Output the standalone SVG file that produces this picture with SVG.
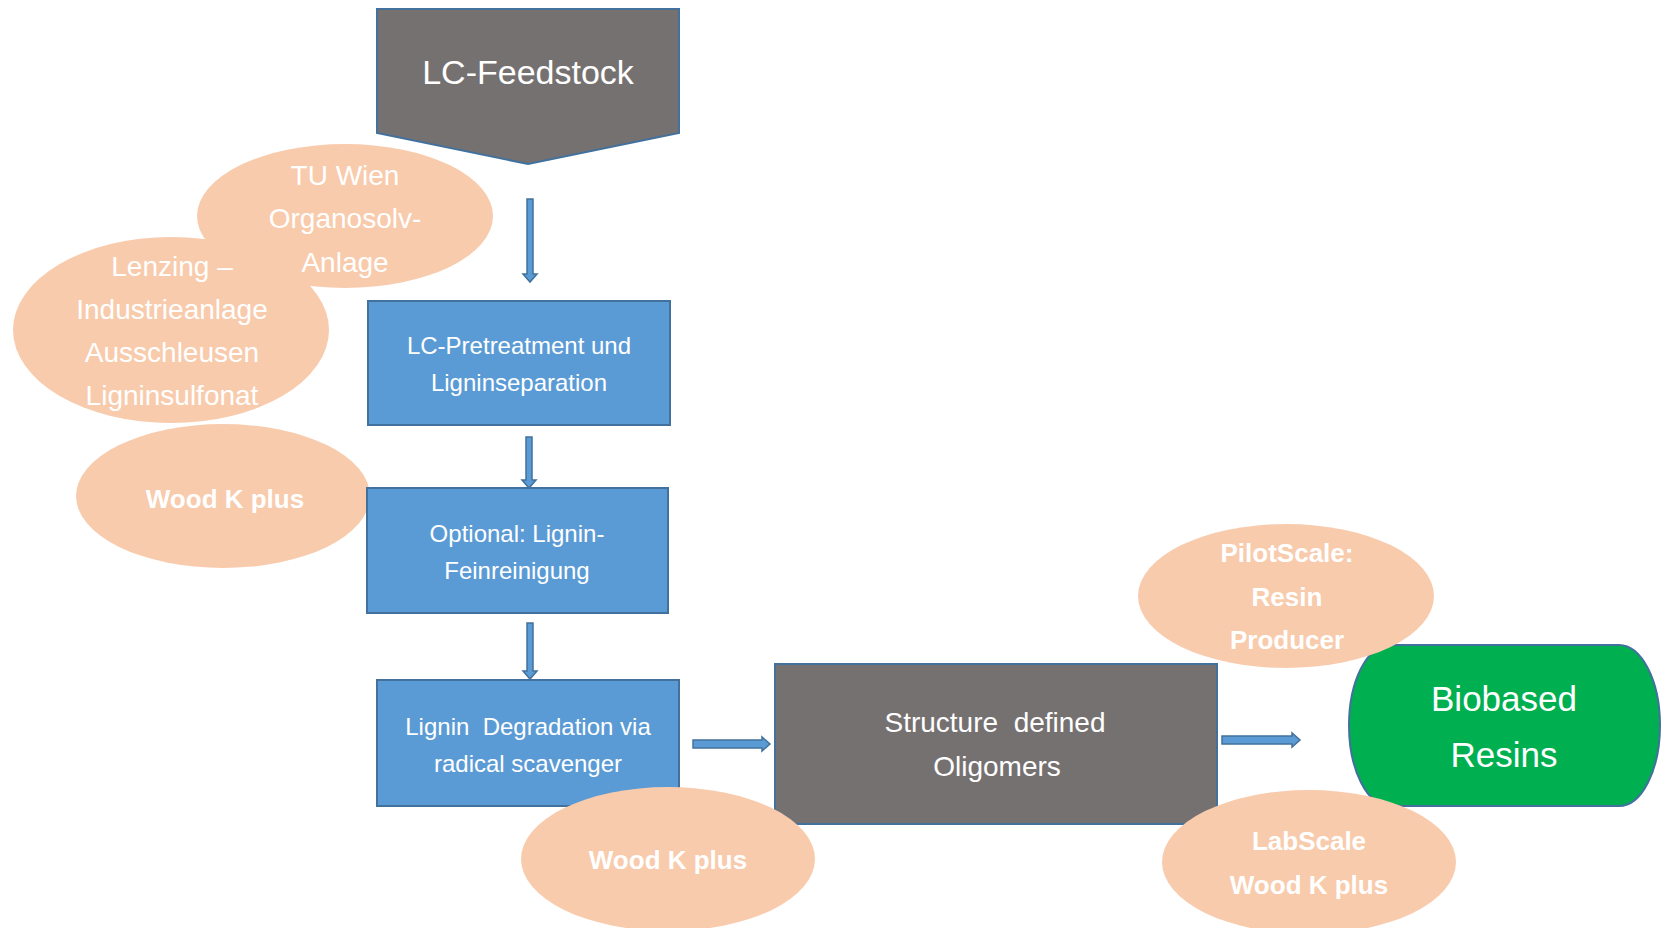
<svg xmlns="http://www.w3.org/2000/svg" width="1665" height="928" viewBox="0 0 1665 928">
<style>
text{font-family:"Liberation Sans",Arial,sans-serif;fill:#FFFFFF;text-anchor:middle}
.box{fill:#5B9BD5;stroke:#41719C;stroke-width:2}
.gray{fill:#767171;stroke:#41719C;stroke-width:2}
.ell{fill:#F8CBAD}
.green{fill:#00B050;stroke:#41719C;stroke-width:2}
.arr{fill:#5B9BD5;stroke:#41719C;stroke-width:1.5}
.b{font-weight:bold}
</style>
<rect width="1665" height="928" fill="#FFFFFF"/>
<g id="feedstock">
<polygon class="gray" points="377,9 679,9 679,133 528,164 377,133"/>
<text x="528" y="84" font-size="34">LC-Feedstock</text>
</g>
<g id="tuwien">
<ellipse class="ell" cx="345" cy="216" rx="148" ry="72"/>
<text x="345" y="185" font-size="28">TU Wien</text>
<text x="345" y="228" font-size="28">Organosolv-</text>
<text x="345" y="272" font-size="28">Anlage</text>
</g>
<g id="lenzing">
<ellipse class="ell" cx="171" cy="330" rx="158" ry="93"/>
<text x="172" y="276" font-size="28">Lenzing –</text>
<text x="172" y="319" font-size="28">Industrieanlage</text>
<text x="172" y="362" font-size="28">Ausschleusen</text>
<text x="172" y="405" font-size="28">Ligninsulfonat</text>
</g>
<g id="woodk1">
<ellipse class="ell" cx="223" cy="496" rx="147" ry="72"/>
<text class="b" x="225" y="508" font-size="26">Wood K plus</text>
</g>
<g id="pretreatment">
<rect class="box" x="368" y="301" width="302" height="124"/>
<text x="519" y="354" font-size="24">LC-Pretreatment und</text>
<text x="519" y="391" font-size="24">Ligninseparation</text>
</g>
<g id="optional">
<rect class="box" x="367" y="488" width="301" height="125"/>
<text x="517" y="542" font-size="24">Optional: Lignin-</text>
<text x="517" y="579" font-size="24">Feinreinigung</text>
</g>
<g id="degradation">
<rect class="box" x="377" y="680" width="302" height="126"/>
<text x="528" y="735" font-size="24" xml:space="preserve">Lignin  Degradation via</text>
<text x="528" y="772" font-size="24">radical scavenger</text>
</g>
<g id="oligomers">
<rect class="gray" x="775" y="664" width="442" height="160"/>
<text x="995" y="732" font-size="28" xml:space="preserve">Structure  defined</text>
<text x="997" y="776" font-size="28">Oligomers</text>
</g>
<g id="resins">
<path class="green" d="M1390,645 H1619 A41 80.5 0 0 1 1619,806 H1390 A41 80.5 0 0 1 1390,645 Z"/>
<text x="1504" y="711" font-size="35">Biobased</text>
<text x="1504" y="767" font-size="35">Resins</text>
</g>
<g id="woodk2">
<ellipse class="ell" cx="668" cy="859" rx="147" ry="72"/>
<text class="b" x="668" y="869" font-size="26">Wood K plus</text>
</g>
<g id="pilotscale">
<ellipse class="ell" cx="1286" cy="596" rx="148" ry="72"/>
<text class="b" x="1287" y="562" font-size="26">PilotScale:</text>
<text class="b" x="1287" y="606" font-size="26">Resin</text>
<text class="b" x="1287" y="649" font-size="26">Producer</text>
</g>
<g id="labscale">
<ellipse class="ell" cx="1309" cy="862" rx="147" ry="72"/>
<text class="b" x="1309" y="850" font-size="26">LabScale</text>
<text class="b" x="1309" y="894" font-size="26">Wood K plus</text>
</g>
<g id="connectors">
<polygon class="arr" points="527,199 533,199 533,274 537,274 530,282 523,274 527,274"/>
<polygon class="arr" points="526,437 532,437 532,480 536,480 529,488 522,480 526,480"/>
<polygon class="arr" points="527,623 533,623 533,671 537,671 530,679 523,671 527,671"/>
<polygon class="arr" points="693,740 762,740 762,737 770,744 762,751 762,748 693,748"/>
<polygon class="arr" points="1222,736 1292,736 1292,733 1300,740 1292,747 1292,744 1222,744"/>
</g>
</svg>
